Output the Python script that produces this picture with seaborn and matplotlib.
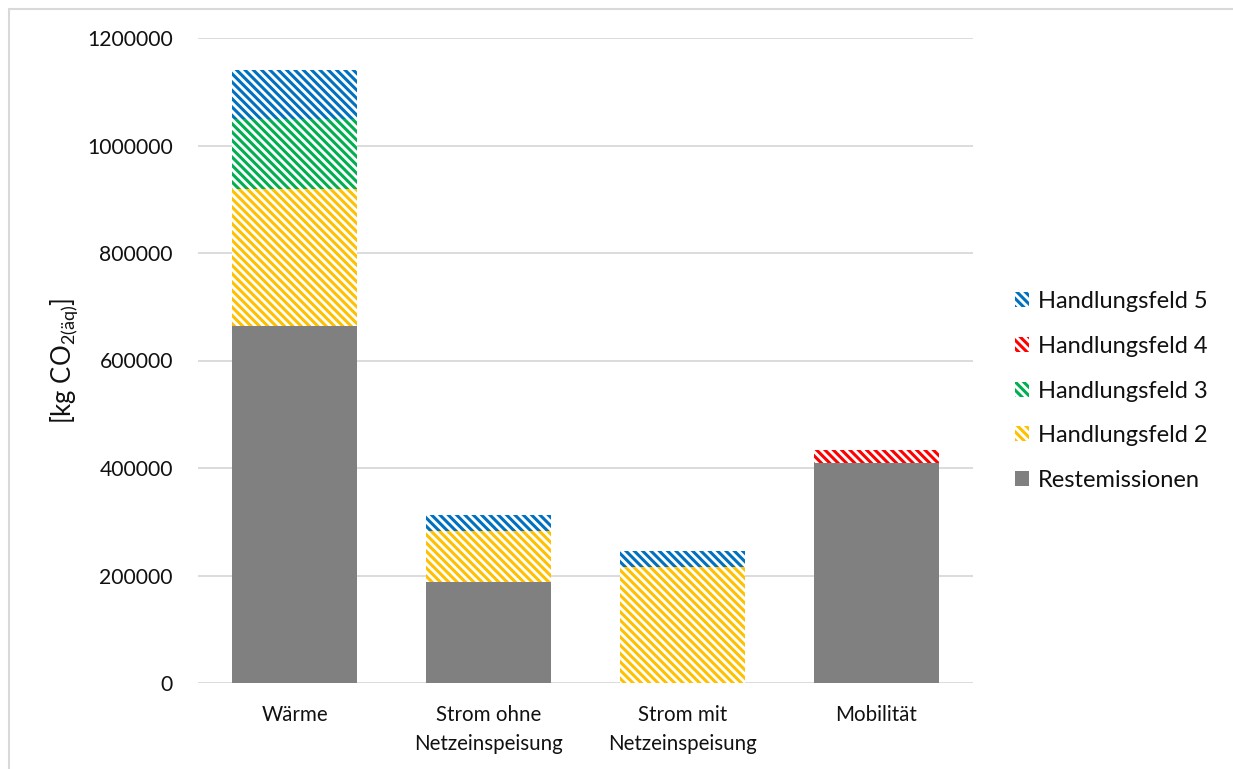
import matplotlib
matplotlib.use("Agg")
import matplotlib.pyplot as plt
import matplotlib.patches as mpatches
import numpy as np
import seaborn as sns

# Emissions per sector, stacked by measure group [kg CO2-eq]
categories = ["Wärme", "Strom ohne\nNetzeinspeisung", "Strom mit\nNetzeinspeisung", "Mobilität"]
restemissionen = [664000, 188000, -2500, 409000]
handlungsfeld_2 = [255000, 95000, 216000, 0]
handlungsfeld_3 = [130000, 0, 0, 0]
handlungsfeld_4 = [0, 0, 0, 24000]
handlungsfeld_5 = [91000, 30000, 29500, 0]

series_names = ["Restemissionen", "Handlungsfeld 2", "Handlungsfeld 3",
                "Handlungsfeld 4", "Handlungsfeld 5"]
series_values = [restemissionen, handlungsfeld_2, handlungsfeld_3,
                 handlungsfeld_4, handlungsfeld_5]
series_colors = ["#808080", "#FFC000", "#00B050", "#FF0000", "#0070C0"]
y_ticks = [0, 200000, 400000, 600000, 800000, 1000000, 1200000]

sns.set_theme(style="white")
plt.rcParams["font.family"] = ["Lato", "DejaVu Sans"]
plt.rcParams["mathtext.fontset"] = "custom"
plt.rcParams["mathtext.rm"] = "Lato"
plt.rcParams["mathtext.it"] = "Lato"
plt.rcParams["mathtext.default"] = "regular"
plt.rcParams["hatch.linewidth"] = 2.2

HATCH = "\\\\\\\\"

fig = plt.figure(figsize=(12.33, 7.69), dpi=100)
ax = fig.add_axes([198 / 1233, 1 - 683 / 769, 775 / 1233, 645 / 769])

pos_base = np.zeros(len(categories))
neg_base = np.zeros(len(categories))
for name, vals, col in zip(series_names, series_values, series_colors):
    vals = np.asarray(vals, dtype=float)
    bottoms = np.where(vals >= 0, pos_base, neg_base)
    n_before = len(ax.patches)
    sns.barplot(x=categories, y=vals, bottom=bottoms, color=col, saturation=1,
                width=0.645, errorbar=None, ax=ax, zorder=3)
    for p in ax.patches[n_before:]:
        if name == "Restemissionen":
            p.set_facecolor(col)
            p.set_edgecolor(col)
            p.set_linewidth(0)
        else:
            p.set_facecolor("white")
            p.set_edgecolor(col)
            p.set_hatch(HATCH)
            p.set_linewidth(0)
    pos_base = pos_base + np.where(vals >= 0, vals, 0)
    neg_base = neg_base + np.where(vals < 0, vals, 0)

ax.set_ylim(0, 1200000)
ax.set_xlim(-0.5, len(categories) - 0.5)
ax.set_yticks(y_ticks)
ax.set_yticklabels([str(t) for t in y_ticks])
ax.yaxis.grid(True, color="#D9D9D9", linewidth=1.3, zorder=0)
ax.xaxis.grid(False)
ax.set_axisbelow(True)
for s in ax.spines.values():
    s.set_visible(False)
ax.tick_params(axis="both", length=0, colors="#111111")
ax.tick_params(axis="y", pad=18, labelsize=15.2)
ax.tick_params(axis="x", pad=16, labelsize=14.8)
for t in ax.get_xticklabels():
    t.set_linespacing(1.55)
ax.set_xlabel("")
ax.set_ylabel(r"[kg CO$_{2(äq)}$]", fontsize=18.5, color="#111111", labelpad=5)

# legend, top entry first
handles = []
for name, col in zip(series_names[::-1], series_colors[::-1]):
    if name == "Restemissionen":
        h = mpatches.Patch(facecolor=col, edgecolor=col, linewidth=0, label=name)
    else:
        h = mpatches.Patch(facecolor="white", edgecolor=col, hatch=HATCH,
                           linewidth=0, label=name)
    handles.append(h)
leg = fig.legend(handles=handles, loc="center left",
                 bbox_to_anchor=(994 / 1233, 1 - 391 / 769), frameon=False,
                 fontsize=17, handlelength=0.6, handleheight=0.6,
                 handletextpad=0.35, labelspacing=1.0)
for t in leg.get_texts():
    t.set_color("#111111")

# light outer frame
fig.patches.append(mpatches.Rectangle((9 / 1233, -0.1), 1.2, 1 - 9 / 769 + 0.1,
                                      transform=fig.transFigure, fill=False,
                                      edgecolor="#D9D9D9", linewidth=1.5))

fig.savefig("out.png", dpi=100)
